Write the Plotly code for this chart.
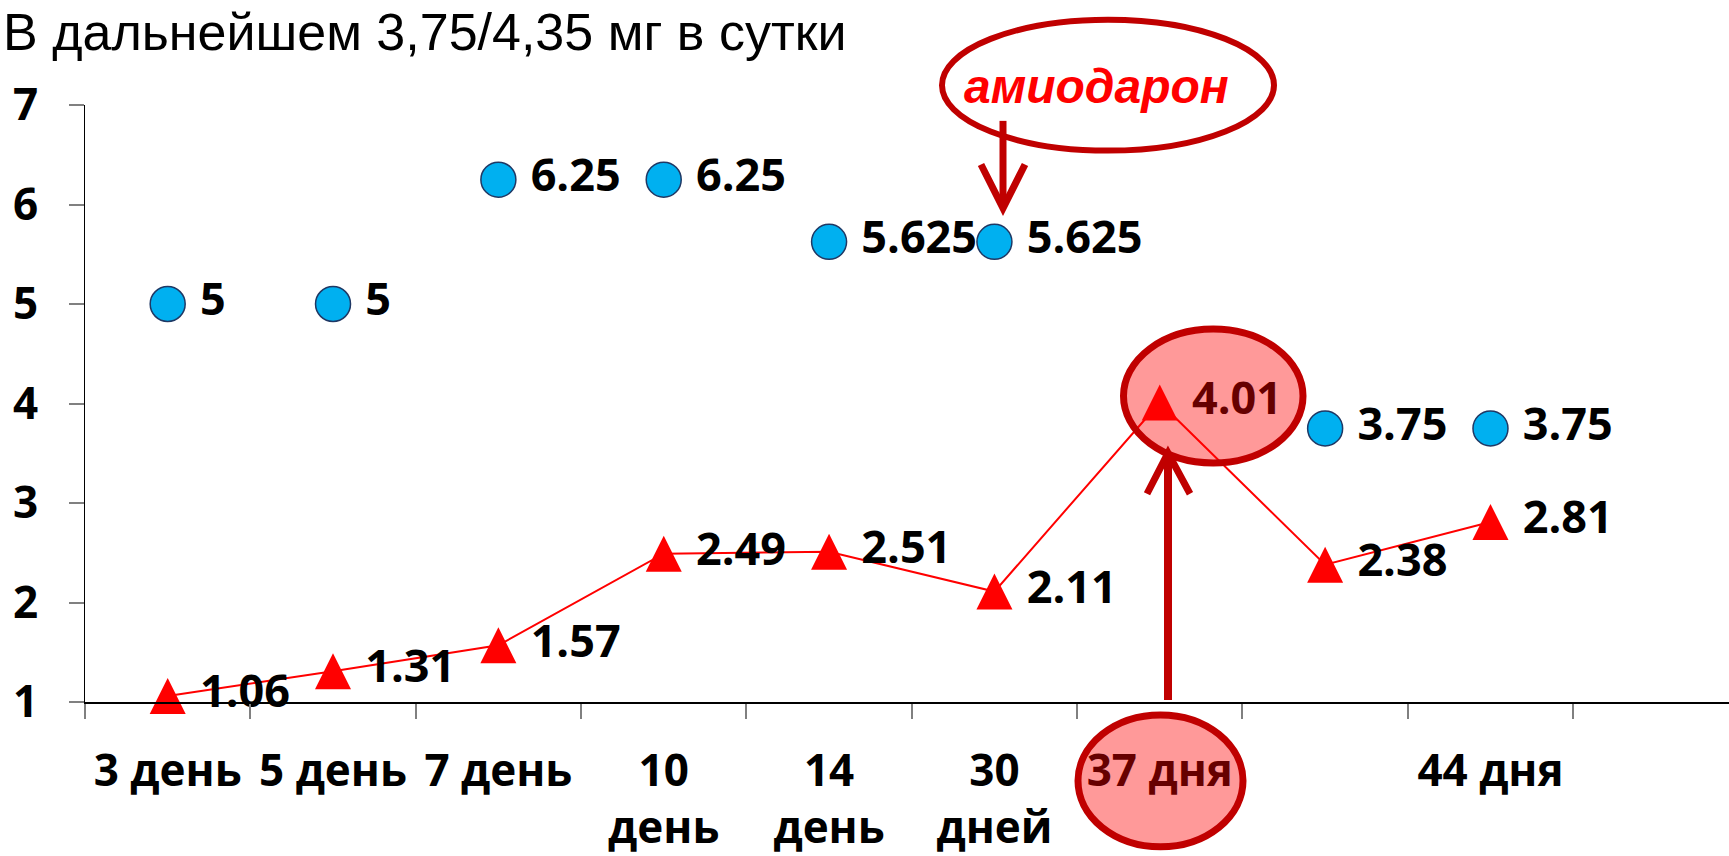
import plotly.graph_objects as go

# ---- data -------------------------------------------------------------
categories = ["3 день", "5 день", "7 день", "10<br>день", "14<br>день",
              "30<br>дней", "37 дня", "", "44 дня", ""]
dose_mg = [5, 5, 6.25, 6.25, 5.625, 5.625, None, 3.75, 3.75, None]
level = [1.06, 1.31, 1.57, 2.49, 2.51, 2.11, 4.01, 2.38, 2.81, None]
y_ticks = [1, 2, 3, 4, 5, 6, 7]

title_text = "В дальнейшем 3,75/4,35 мг в сутки"
drug_text = "амиодарон"

# ---- page geometry ----------------------------------------------------
W, H = 1729, 856
ML, MR, MT, MB = 85, 0, 105, 149
PW, PH = W - ML - MR, H - MT - MB
SLOT = 165.35  # px per category


def xp(px):
    """pixel column -> paper x"""
    return (px - ML) / PW


def yp(py):
    """pixel row -> paper y"""
    return (H - MB - py) / PH


idx = list(range(len(categories)))


def fmt(v):
    return "" if v is None else f"{v:g}"


LABEL_FONT = dict(family="Open Sans", size=45, color="black", weight="bold")
TICK_FONT = dict(family="Open Sans", size=44, color="black", weight="bold")
DARK_RED = "#C00000"

fig = go.Figure()

# connecting line for the concentration series
fig.add_trace(go.Scatter(
    x=idx, y=level, mode="lines",
    line=dict(color="#FF0000", width=2),
    hoverinfo="skip", cliponaxis=False))

# dose markers (blue circles)
fig.add_trace(go.Scatter(
    x=idx, y=dose_mg, mode="markers",
    marker=dict(symbol="circle", size=35, color="#00B0F0",
                line=dict(color="#1F3864", width=1.5)),
    cliponaxis=False))

# concentration markers (red triangles, centred on the value)
fig.add_trace(go.Scatter(
    x=idx, y=level, mode="markers",
    marker=dict(symbol="arrow-down", angle=180, standoff=18, size=36,
                color="#FF0000", line=dict(width=0)),
    cliponaxis=False))

# value labels to the right of each marker
for series in (dose_mg, level):
    fig.add_trace(go.Scatter(
        x=idx, y=series, mode="markers+text",
        text=[fmt(v) for v in series], textposition="middle right",
        textfont=LABEL_FONT,
        marker=dict(size=50, color="rgba(0,0,0,0)"),
        hoverinfo="skip", cliponaxis=False))

# ---- decorations ------------------------------------------------------
shapes = [
    # highlight of the 4.01 point
    dict(type="circle", xref="paper", yref="paper", layer="above",
         x0=xp(1123.5), x1=xp(1303), y0=yp(466), y1=yp(331),
         fillcolor="rgba(255,0,0,0.4)", line=dict(color=DARK_RED, width=7)),
    # highlight of the "37 дня" label
    dict(type="circle", xref="paper", yref="paper", layer="above",
         x0=xp(1078), x1=xp(1243), y0=yp(853), y1=yp(720),
         fillcolor="rgba(255,0,0,0.4)", line=dict(color=DARK_RED, width=7)),
    # frame around the drug name
    dict(type="circle", xref="paper", yref="paper", layer="above",
         x0=xp(942), x1=xp(1274), y0=yp(151), y1=yp(19),
         fillcolor="rgba(0,0,0,0)", line=dict(color=DARK_RED, width=6)),
    # arrow from the drug name down
    dict(type="path", xref="paper", yref="paper", layer="above",
         path=f"M{xp(1003)},{yp(121)} L{xp(1003)},{yp(206)}",
         line=dict(color=DARK_RED, width=7)),
    dict(type="path", xref="paper", yref="paper", layer="above",
         path=f"M{xp(981)},{yp(165)} L{xp(1003)},{yp(209)} L{xp(1025)},{yp(165)}",
         line=dict(color=DARK_RED, width=7)),
    # arrow from the axis up to the 4.01 point
    dict(type="path", xref="paper", yref="paper", layer="above",
         path=f"M{xp(1168)},{yp(705)} L{xp(1168)},{yp(460)}",
         line=dict(color=DARK_RED, width=8)),
    dict(type="path", xref="paper", yref="paper", layer="above",
         path=f"M{xp(1147)},{yp(497)} L{xp(1168)},{yp(456)} L{xp(1190)},{yp(497)}",
         line=dict(color=DARK_RED, width=7)),
]

annotations = [
    dict(text=title_text, xref="paper", yref="paper",
         x=xp(1), y=yp(0), xanchor="left", yanchor="top",
         showarrow=False,
         font=dict(family="Liberation Sans", size=52, color="black")),
    dict(text=drug_text, xref="paper", yref="paper",
         x=xp(1096), y=yp(86), xanchor="center", yanchor="middle",
         showarrow=False,
         font=dict(family="Liberation Sans", size=48, color="#FF0000",
                   weight="bold", style="italic")),
]

fig.update_layout(
    width=W, height=H,
    margin=dict(l=ML, r=MR, t=MT, b=MB, pad=0),
    paper_bgcolor="white", plot_bgcolor="white",
    showlegend=False,
    shapes=shapes, annotations=annotations,
    xaxis=dict(
        range=[-0.5, -0.5 + PW / SLOT],
        tickmode="array", tickvals=idx, ticktext=categories,
        ticks="", tickfont=TICK_FONT, ticklabelstandoff=29,
        showgrid=False, zeroline=False,
        showline=True, linecolor="black", linewidth=1.5,
        minor=dict(tickmode="array",
                   tickvals=[i - 0.5 for i in range(len(categories) + 1)],
                   ticks="outside", ticklen=15, tickcolor="#808080",
                   tickwidth=1.5),
    ),
    yaxis=dict(
        range=[1, 7], tickmode="array", tickvals=y_ticks,
        ticks="outside", ticklen=15, tickcolor="#808080", tickwidth=1.5,
        tickfont=TICK_FONT, ticklabelstandoff=22,
        showgrid=False, zeroline=False,
        showline=True, linecolor="black", linewidth=1,
    ),
)

fig.write_html("out.html")
